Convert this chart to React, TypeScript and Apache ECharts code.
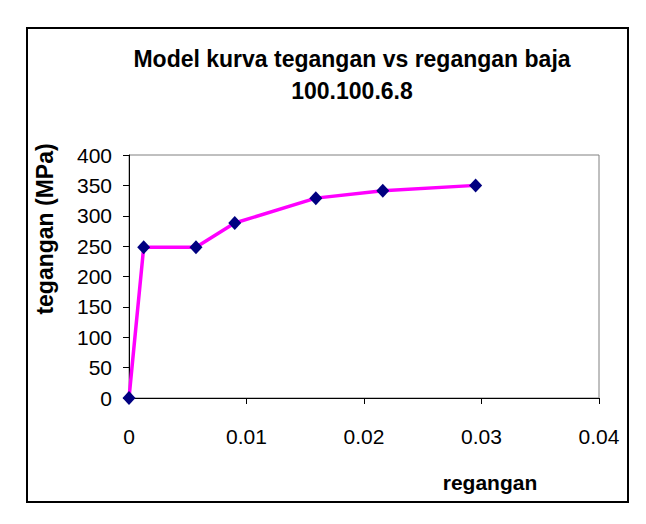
import React, { useEffect, useRef } from "react";
import * as echarts from "echarts";

const strain = [0, 0.00125, 0.0057, 0.009, 0.0159, 0.0216, 0.0295];
const stress = [0, 248, 248, 288, 329, 341, 350];
const titleLines = ["Model kurva tegangan vs regangan baja", "100.100.6.8"];
const xName = "regangan";
const yName = "tegangan (MPa)";

export default function App() {
  const ref = useRef<HTMLDivElement>(null);
  useEffect(() => {
    if (!ref.current) return;
    const chart = echarts.init(ref.current, undefined, { renderer: "svg" });
    const font = "Liberation Sans, Arial, sans-serif";
    chart.setOption({
      animation: false,
      backgroundColor: "#ffffff",
      title: {
        text: titleLines.join("\n"),
        left: 339,
        top: 30,
        textAlign: "center",
        textStyle: {
          fontFamily: font,
          fontSize: 23,
          fontWeight: "bold",
          color: "#000",
          lineHeight: 32,
        },
      },
      graphic: [
        {
          type: "rect",
          shape: { x: 19, y: 20, width: 601, height: 474 },
          style: { fill: "none", stroke: "#000", lineWidth: 2 },
          silent: true,
        },
        {
          type: "text",
          x: 482,
          y: 474,
          style: {
            text: xName,
            font: `bold 21px ${font}`,
            fill: "#000",
            textAlign: "center",
            textVerticalAlign: "middle",
          },
        },
        {
          type: "text",
          x: 37,
          y: 221,
          rotation: Math.PI / 2,
          style: {
            text: yName,
            font: `bold 23px ${font}`,
            fill: "#000",
            textAlign: "center",
            textVerticalAlign: "middle",
          },
        },
      ],
      grid: {
        left: 121,
        right: 47,
        top: 147,
        bottom: 126,
        show: true,
        borderColor: "#808080",
        borderWidth: 1,
        backgroundColor: "transparent",
      },
      xAxis: {
        type: "value",
        min: 0,
        max: 0.04,
        interval: 0.01,
        axisLine: { show: true, onZero: false, lineStyle: { color: "#000", width: 1 } },
        axisTick: { show: true, inside: false, length: 6, lineStyle: { color: "#000" } },
        splitLine: { show: false },
        axisLabel: {
          margin: 28,
          fontFamily: font,
          fontSize: 21,
          color: "#000",
        },
      },
      yAxis: {
        type: "value",
        min: 0,
        max: 400,
        interval: 50,
        axisLine: { show: true, onZero: false, lineStyle: { color: "#000", width: 1 } },
        axisTick: { show: true, inside: false, length: 6, lineStyle: { color: "#000" } },
        splitLine: { show: false },
        axisLabel: {
          margin: 17,
          fontFamily: font,
          fontSize: 21,
          color: "#000",
        },
      },
      series: [
        {
          type: "line",
          data: strain.map((s, i) => [s, stress[i]]),
          lineStyle: { color: "#FF00FF", width: 3.5 },
          itemStyle: { color: "#000080" },
          symbol: "diamond",
          symbolSize: [13, 14],
          showSymbol: true,
          clip: false,
          z: 3,
        },
      ],
    });
    return () => chart.dispose();
  }, []);
  return <div ref={ref} style={{ width: 638, height: 516 }} />;
}
